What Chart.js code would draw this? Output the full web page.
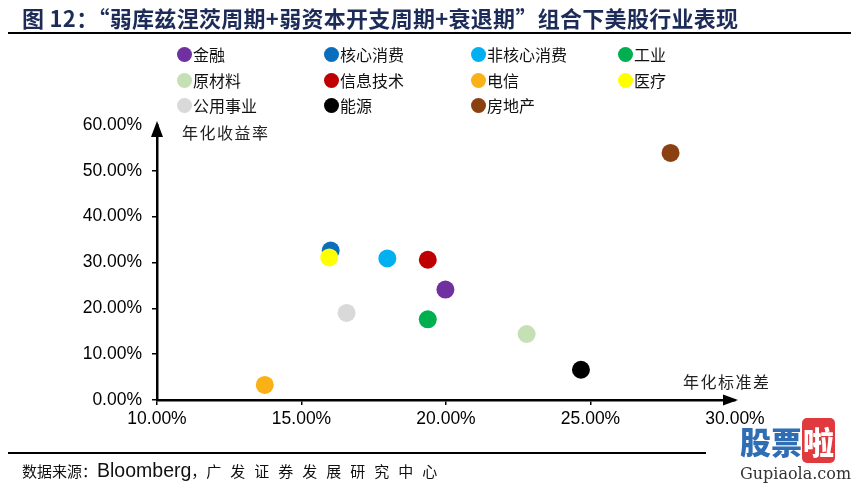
<!DOCTYPE html>
<html><head><meta charset="utf-8">
<script src="https://cdn.jsdelivr.net/npm/chart.js@4.4.1/dist/chart.umd.min.js"></script>
<style>
html,body{margin:0;padding:0;background:#fff;}
#wrap{position:relative;width:856px;height:488px;overflow:hidden;font-family:'Noto Sans CJK SC',sans-serif;background:#fff;}
canvas{position:absolute;left:0;top:0;}
.abs{position:absolute;white-space:nowrap;}
#title{left:22px;top:2px;font-size:22px;letter-spacing:0.3px;font-weight:700;color:#1C2B57;line-height:30px;}
.rule{position:absolute;left:8px;background:#000;}
.leg{position:absolute;font-size:16px;line-height:20px;color:#111;white-space:nowrap;}
.dot{position:absolute;width:15px;height:15px;border-radius:50%;}
.axl{position:absolute;font-size:16px;line-height:20px;letter-spacing:1.5px;color:#222;white-space:nowrap;}
#src{left:22px;top:459px;font-size:15px;line-height:22px;color:#111;}
</style></head>
<body><div id="wrap">
<canvas id="c" width="856" height="488" style="width:856px;height:488px"></canvas>
<div id="title" class="abs">图 12：“弱库兹涅茨周期+弱资本开支周期+衰退期”组合下美股行业表现</div>
<div class="rule" style="top:32px;width:843px;height:2px"></div>
<div class="rule" style="top:452px;width:698px;height:2px"></div>
<div id="legend"></div>
<div class="axl" style="left:182px;top:122px">年化收益率</div>
<div class="axl" style="left:683px;top:371px">年化标准差</div>
<div id="src" class="abs">数据来源：<span style="font-family:'Liberation Sans',Arial;font-size:19.5px">Bloomberg</span>，<span style="letter-spacing:9px">广发证券发展研究中心</span></div>
<div class="abs" style="left:740px;top:424px;font-size:31px;line-height:34px;font-weight:900;color:#2F6EB5">股票<span style="background:#E0393E;color:#fff;border-radius:5px;padding:0 1px">啦</span></div>
<div class="abs" style="left:740px;top:464px;font-size:16px;line-height:20px;font-family:'DejaVu Serif',serif;color:#333">Gupiaola.com</div>
</div>
<script>
const sectors = ['金融','核心消费','非核心消费','工业','原材料','信息技术','电信','医疗','公用事业','能源','房地产'];
const volatility = [19.98,16.01,17.97,19.37,22.79,19.37,13.73,15.96,16.56,24.67,27.77];
const annualReturn = [24.1,32.6,30.9,17.6,14.4,30.6,3.3,31.1,19.0,6.6,53.9];
const colors = ['#7030A0','#0A6EBD','#00B0F0','#00B050','#C5E0B4','#C00000','#F9B115','#FFFF00','#D9D9D9','#000000','#8A4010'];
const xTicks = [10,15,20,25,30];
const yTicks = [0,10,20,30,40,50,60];

// legend (HTML, 4 columns)
const legendCols = [184,331,478,625];
const legendRows = [54,80,105];
const lg = document.getElementById('legend');
sectors.forEach((s,i)=>{
  const cx = legendCols[i%4], cy = legendRows[Math.floor(i/4)];
  const d = document.createElement('div'); d.className='dot';
  d.style.left=(cx-7.5)+'px'; d.style.top=(cy-7.5)+'px'; d.style.background=colors[i];
  lg.appendChild(d);
  const t = document.createElement('div'); t.className='leg';
  t.style.left=(cx+9)+'px'; t.style.top=(cy-10)+'px'; t.textContent=s;
  lg.appendChild(t);
});

const arrows = {
  id:'arrows',
  afterDraw(chart){
    const {ctx, chartArea:{left,right,top,bottom}} = chart;
    ctx.save(); ctx.fillStyle='#000';
    ctx.beginPath(); ctx.moveTo(left, top-4); ctx.lineTo(left-6, top+12); ctx.lineTo(left+6, top+12); ctx.closePath(); ctx.fill();
    ctx.beginPath(); ctx.moveTo(right+3, bottom); ctx.lineTo(right-12, bottom-5.5); ctx.lineTo(right-12, bottom+5.5); ctx.closePath(); ctx.fill();
    ctx.restore();
  }
};

const tickFont = {family:"'Liberation Sans', Arial, sans-serif", size:17.5};
new Chart(document.getElementById('c'), {
  type:'scatter',
  data:{ datasets: sectors.map((s,i)=>({label:s, order:-i, data:[{x:volatility[i], y:annualReturn[i]}], backgroundColor:colors[i], borderWidth:0, pointRadius:9, pointHoverRadius:9})) },
  options:{
    responsive:false, animation:false, devicePixelRatio:1,
    layout:{padding:{top:125,right:121,left:0,bottom:0}},
    plugins:{legend:{display:false}, tooltip:{enabled:false}},
    scales:{
      x:{type:'linear', min:xTicks[0], max:xTicks[xTicks.length-1],
        afterBuildTicks:(sc)=>{sc.ticks = xTicks.map(v=>({value:v}));},
        afterFit:(sc)=>{sc.height=88;},
        ticks:{font:tickFont, color:'#000', padding:4, maxRotation:0, callback:v=>v.toFixed(2)+'%'},
        grid:{drawOnChartArea:false, tickLength:5, lineWidth:1.5, color:(c)=>c.tick && c.tick.value===xTicks[xTicks.length-1] ? 'rgba(0,0,0,0)' : '#000'},
        border:{display:true, color:'#000', width:2.5}},
      y:{type:'linear', min:yTicks[0], max:yTicks[yTicks.length-1],
        afterBuildTicks:(sc)=>{sc.ticks = yTicks.map(v=>({value:v}));},
        afterFit:(sc)=>{sc.width=157;},
        ticks:{font:tickFont, color:'#000', padding:10, callback:v=>v.toFixed(2)+'%'},
        grid:{drawOnChartArea:false, tickLength:5, lineWidth:1.5, color:(c)=>c.tick && c.tick.value===yTicks[yTicks.length-1] ? 'rgba(0,0,0,0)' : '#000'},
        border:{display:true, color:'#000', width:2.5}}
    }
  },
  plugins:[arrows]
});
</script>
</body></html>
